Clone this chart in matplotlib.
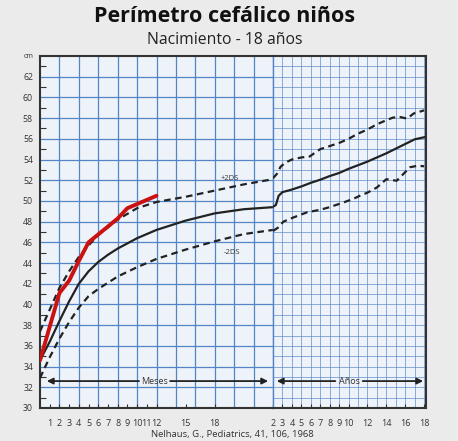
import matplotlib
matplotlib.use("Agg")
import matplotlib.pyplot as plt

# ---------------- data ----------------
# Left panel: months 0-24
months = [0, 1, 2, 3, 4, 5, 6, 7, 8, 10, 12, 15, 18, 21, 24]
mean_months = [34.6, 36.4, 38.4, 40.3, 42.0, 43.2, 44.1, 44.8, 45.4, 46.4, 47.2, 48.1, 48.8, 49.2, 49.4]
lower_months = [32.9, 34.9, 36.7, 38.3, 39.7, 40.8, 41.5, 42.1, 42.7, 43.6, 44.4, 45.3, 46.1, 46.8, 47.2]
upper_m_x = [0, 1, 2, 3, 4, 5, 6, 8, 10, 12, 15, 18, 21, 24]
upper_months = [37.4, 39.5, 41.6, 43.2, 44.6, 45.7, 46.7, 48.2, 49.3, 49.9, 50.4, 51.0, 51.6, 52.1]

# Patient measurements (red)
patient_months = [0, 2, 3, 4, 5, 8, 9, 12]
patient_cm = [34.6, 41.1, 42.3, 44.2, 46.0, 48.3, 49.3, 50.5]

# Right panel: years 2-18
mean_y_x = [2, 2.3, 2.6, 3, 4, 5, 6, 7, 8, 9, 10, 11, 12, 13, 14, 15, 16, 17, 18]
mean_years = [49.45, 49.6, 50.5, 50.85, 51.1, 51.4, 51.75, 52.05, 52.4, 52.7, 53.1, 53.45,
              53.8, 54.2, 54.6, 55.05, 55.5, 55.95, 56.15]
upper_y_x = [2, 2.4, 2.8, 3.3, 4, 5, 5.9, 6.5, 7, 8, 9, 10, 11, 12, 13, 14, 14.7, 15.5, 16.2, 16.9, 18]
upper_years = [52.2, 52.6, 53.3, 53.7, 54.0, 54.2, 54.3, 54.7, 55.0, 55.3, 55.6, 56.0, 56.5,
               56.9, 57.4, 57.8, 58.05, 58.1, 57.95, 58.45, 58.75]
lower_y_x = [2, 2.5, 3.1, 4.15, 5.6, 7, 8, 9.45, 10.5, 11.2, 12, 13, 14, 15.1, 16.5, 17.3, 18]
lower_years = [47.1, 47.4, 48.0, 48.4, 48.9, 49.15, 49.4, 49.85, 50.2, 50.5, 50.8, 51.3,
               52.1, 51.95, 53.25, 53.4, 53.35]

# Tick labels
y_ticks = list(range(30, 64, 2)) + [64]
y_labels = [str(v) for v in range(30, 64, 2)] + ["cm"]
month_ticks = [1, 2, 3, 4, 5, 6, 7, 8, 9, 10, 11, 12, 15, 18, 24]
month_labels = ["1", "2", "3", "4", "5", "6", "7", "8", "9", "10", "11", "12", "15", "18", "2"]
year_ticks = [3, 4, 5, 6, 7, 8, 9, 10, 12, 14, 16, 18]
year_labels = [str(v) for v in year_ticks]

title = "Perímetro cefálico niños"
subtitle = "Nacimiento - 18 años"
source = "Nelhaus, G., Pediatrics, 41, 106, 1968"

# ---------------- style ----------------
plt.rcParams['font.family'] = ['Open Sans', 'DejaVu Sans']
W, H = 458, 441
fig = plt.figure(figsize=(W / 100, H / 100), dpi=100)
fig.patch.set_facecolor('#ebebeb')

x0, x_mid, x1 = 40, 273, 426
y_top, y_bot = 56, 408
ax1 = fig.add_axes([x0 / W, 1 - y_bot / H, (x_mid - x0) / W, (y_bot - y_top) / H])
ax2 = fig.add_axes([x_mid / W, 1 - y_bot / H, (x1 - x_mid) / W, (y_bot - y_top) / H])

bg = '#eef3f9'
grid_c = '#5284c6'
frame_c = '#333333'
for ax in (ax1, ax2):
    ax.set_facecolor(bg)
    ax.set_ylim(30, 64)

ax1.set_xlim(0, 24)
ax2.set_xlim(2, 18.2)

# grids
for m in range(2, 25, 2):
    ax1.axvline(m, color=grid_c, lw=0.9, zorder=1)
for c in range(32, 64, 2):
    ax1.axhline(c, color=grid_c, lw=0.9, zorder=1)
for yv in range(3, 19):
    ax2.axvline(yv, color=grid_c, lw=0.6, alpha=0.75, zorder=1)
for c in range(31, 64):
    ax2.axhline(c, color=grid_c, lw=0.6, alpha=0.75, zorder=1)

# spines
for ax in (ax1, ax2):
    for s in ax.spines.values():
        s.set_color(frame_c)
        s.set_linewidth(1.5)
ax1.spines['right'].set_visible(False)
ax2.spines['left'].set_color(grid_c)
ax2.spines['left'].set_linewidth(1.0)

# ticks
ax1.set_yticks(y_ticks)
ax1.set_yticklabels(y_labels)
ax1.set_yticks(range(31, 64, 2), minor=True)
ax1.tick_params(axis='y', which='major', length=0, pad=5, labelsize=6.3, labelcolor='#333333')
ax1.tick_params(axis='y', which='minor', length=4, direction='in', color=frame_c, width=0.8)
for lab in ax1.get_yticklabels():
    if lab.get_text() == 'cm':
        lab.set_fontsize(5)
ax2.set_yticks([])

ax1.set_xticks(month_ticks)
ax1.set_xticklabels(month_labels)
ax1.tick_params(axis='x', length=3, direction='in', color=frame_c, width=0.8,
                pad=8, labelsize=6.5, labelcolor='#333333')
ax2.set_xticks(year_ticks)
ax2.set_xticklabels(year_labels)
ax2.tick_params(axis='x', length=3, direction='in', color=frame_c, width=0.8,
                pad=8, labelsize=6.5, labelcolor='#333333')

# curves
line_c = '#222222'
dash = (0, (3, 2))
ax1.plot(months, mean_months, color=line_c, lw=1.6, zorder=3, solid_capstyle='butt')
ax1.plot(upper_m_x, upper_months, color=line_c, lw=1.6, ls=dash, zorder=3)
ax1.plot(months, lower_months, color=line_c, lw=1.6, ls=dash, zorder=3)
ax1.plot(patient_months, patient_cm, color='#cc1111', lw=2.8, zorder=4,
         solid_joinstyle='round', solid_capstyle='round')

ax2.plot(mean_y_x, mean_years, color=line_c, lw=1.6, zorder=3)
ax2.plot(upper_y_x, upper_years, color=line_c, lw=1.6, ls=dash, zorder=3)
ax2.plot(lower_y_x, lower_years, color=line_c, lw=1.6, ls=dash, zorder=3)

ax1.text(19.6, 52.2, "+2DS", fontsize=5.5, color='#333333', ha='center', va='center', zorder=5)
ax1.text(19.8, 45.0, "-2DS", fontsize=5.5, color='#333333', ha='center', va='center', zorder=5)

# arrows
arr_y = 32.6
ap = dict(arrowstyle='-|>', color=line_c, lw=1.3, mutation_scale=9, shrinkA=0, shrinkB=0)
ax1.annotate('', xy=(0.7, arr_y), xytext=(10.2, arr_y), arrowprops=ap, zorder=5)
ax1.annotate('', xy=(23.5, arr_y), xytext=(13.4, arr_y), arrowprops=ap, zorder=5)
ax1.text(11.8, arr_y, "Meses", fontsize=6.5, color='#333333', ha='center', va='center', zorder=5)
ax2.annotate('', xy=(2.4, arr_y), xytext=(8.6, arr_y), arrowprops=ap, zorder=5)
ax2.annotate('', xy=(17.9, arr_y), xytext=(11.5, arr_y), arrowprops=ap, zorder=5)
ax2.text(10.05, arr_y, "Años", fontsize=6.5, color='#333333', ha='center', va='center', zorder=5)

# titles
fig.text(225 / W, 1 - 17 / H, title, fontsize=15.5, fontweight='bold', ha='center', va='center',
         color='#111111')
fig.text(225 / W, 1 - 40 / H, subtitle, fontsize=11.3, ha='center', va='center', color='#222222')
fig.text(232 / W, 1 - 435 / H, source, fontsize=6.8, ha='center', va='center', color='#333333')

fig.savefig("out.png", dpi=100, facecolor=fig.get_facecolor())
